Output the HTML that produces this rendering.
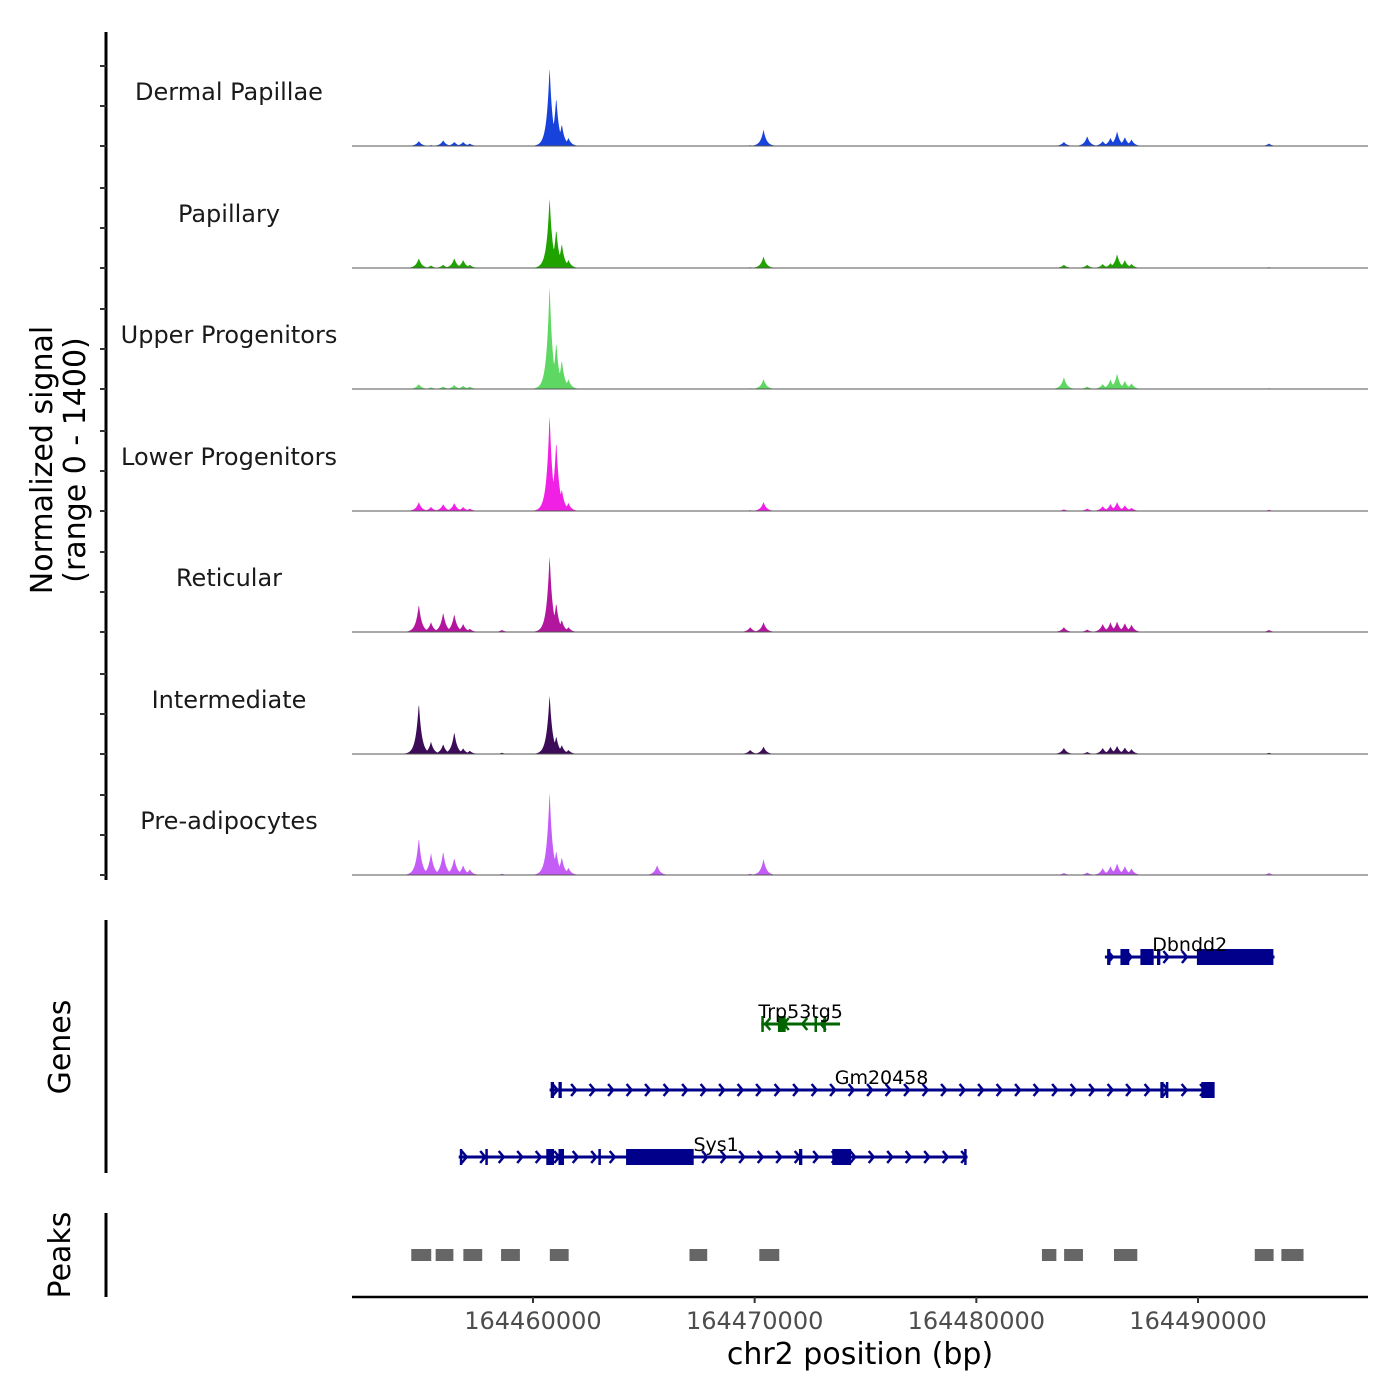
<!DOCTYPE html>
<html><head><meta charset="utf-8"><style>
html,body{margin:0;padding:0;background:#fff;}
svg{display:block;font-family:"DejaVu Sans","Liberation Sans",sans-serif;}
</style></head><body>
<svg id="chart" width="1400" height="1400" viewBox="0 0 1400 1400">
<g id="tracks"></g>
<g id="yaxis"></g>
<g id="genes"></g>
<g id="peaks"></g>
<g id="xaxis"></g>
<text transform="translate(52,460) rotate(-90)" text-anchor="middle" font-size="30" fill="#000">Normalized signal</text>
<text transform="translate(85,460) rotate(-90)" text-anchor="middle" font-size="30" fill="#000">(range 0 - 1400)</text>
<text transform="translate(70,1047) rotate(-90)" text-anchor="middle" font-size="30" fill="#000">Genes</text>
<text transform="translate(70,1255) rotate(-90)" text-anchor="middle" font-size="30" fill="#000">Peaks</text>
<text x="860" y="1364" text-anchor="middle" font-size="30" fill="#000">chr2 position (bp)</text>
</svg>
<script>
const NS="http://www.w3.org/2000/svg";
// ---- data ----
const trackNames=["Dermal Papillae","Papillary","Upper Progenitors","Lower Progenitors","Reticular","Intermediate","Pre-adipocytes"];
const trackColors=["#1742dc","#1ea300","#5ed862","#f020e4","#b2169f","#3c0c58","#c45cf6"];
const peakPositions=[164454850,164455400,164455950,164456450,164456850,164457150,164458600,164460750,164461050,164461300,164461600,164465600,164469800,164470400,164483950,164485000,164485700,164486050,164486350,164486700,164487000,164493200];
const signalDermal=[60,10,70,50,50,30,5,970,600,270,100,5,10,200,50,120,60,100,180,110,80,30];
const signalPapillary=[120,30,40,120,100,40,5,870,480,300,100,5,10,140,40,40,50,60,170,100,50,10];
const signalUpper=[60,20,30,50,40,30,5,1285,580,360,120,5,10,120,145,30,60,120,190,100,70,10];
const signalLower=[110,50,85,100,50,30,5,1190,870,270,100,5,10,110,20,30,60,85,110,70,40,15];
const signalReticular=[340,120,240,220,100,40,25,945,360,150,60,5,60,120,60,30,100,120,130,110,90,25];
const signalIntermediate=[630,150,120,270,70,40,15,730,220,110,50,5,50,90,75,25,75,90,100,80,60,15];
const signalPreadip=[460,270,290,210,120,70,15,1030,300,220,90,120,15,195,25,30,85,110,145,110,80,25];
const trackSignals=[signalDermal,signalPapillary,signalUpper,signalLower,signalReticular,signalIntermediate,signalPreadip];
const xTicks=[164460000,164470000,164480000,164490000];
const geneNames=["Dbndd2","Trp53tg5","Gm20458","Sys1"];
const geneStarts=[164485800,164470300,164460750,164456650];
const geneEnds=[164493450,164473850,164490700,164479600];
const geneStrands=["+","-","+","+"];
const geneExons=[
 [[164485900,164486050],[164486500,164486900],[164487400,164488000],[164488150,164488300],[164489950,164493400]],
 [[164470300,164470400],[164471050,164471400],[164472700,164472800],[164473100,164473200]],
 [[164460800,164460950],[164461150,164461300],[164488300,164488450],[164488550,164488650],[164490150,164490750]],
 [[164456700,164456800],[164457850,164457950],[164460600,164460950],[164461150,164461400],[164462950,164463050],[164464200,164467250],[164472000,164472150],[164473500,164474350],[164479450,164479550]]
];
const peakStarts=[164454600,164455700,164456950,164458650,164460850,164467150,164470300,164483050,164484050,164486300,164492650,164493850];
const peakEnds=[164455500,164456500,164457800,164459500,164461700,164467950,164471200,164483700,164484900,164487350,164493500,164494850];
// ---- scales ----
const X0=352,X1=1368,BP0=164451836,BP1=164497668;
const xs=bp=>X0+(bp-BP0)/(BP1-BP0)*(X1-X0);
const baselines=[146,268,389,511,632,754,875];
const TH=121.5;
const ys=(v,b)=>b-v/1400*TH*0.95;
function el(tag,attrs,parent){const e=document.createElementNS(NS,tag);for(const k in attrs)e.setAttribute(k,attrs[k]);parent.appendChild(e);return e;}
const T=document.getElementById('tracks');
trackNames.forEach((nm,i)=>{
  const b=baselines[i],sig=trackSignals[i];
  let d=`M${X0},${b}`;
  for(let px=X0;px<=X1;px+=0.5){
    let v=0;
    peakPositions.forEach((p,j)=>{const dx=Math.abs(px-xs(p));v=Math.max(v,sig[j]*Math.exp(-dx/3));});
    v=Math.min(v,1400);
    d+=` L${px},${ys(v,b).toFixed(2)}`;
  }
  d+=` L${X1},${b} Z`;
  const p=el('path',{d:d,fill:trackColors[i],stroke:'none'},T);
  
  
  const ln=el('line',{x1:X0,x2:X1,y1:b,y2:b,stroke:'#555','stroke-width':1},T);
  
  
  const t=el('text',{x:229,y:b-46,'text-anchor':'middle','font-size':24,fill:'#1a1a1a'},T);
  t.textContent=nm;
  
  
});
// y axis
const Y=document.getElementById('yaxis');
el('line',{x1:106,x2:106,y1:32,y2:880,stroke:'#000','stroke-width':3},Y);
baselines.forEach(b=>{[0,40,80].forEach(o=>{const tk=el('line',{x1:100,x2:106,y1:b-o,y2:b-o,stroke:'#333','stroke-width':2},Y);

});});
// genes
const G=document.getElementById('genes');
el('line',{x1:106,x2:106,y1:920,y2:1173,stroke:'#000','stroke-width':3},G);
const rowY=[957,1024,1090,1157];
geneNames.forEach((nm,i)=>{
  const col=i==1?'#006400':'#00008b',y=rowY[i];
  const g=el('g',{},G);
  
  
  const s=xs(geneStarts[i]),e=xs(geneEnds[i]);
  el('line',{x1:s,x2:e,y1:y,y2:y,stroke:col,'stroke-width':3},g);
  for(let x=s+6;x<e;x+=18.5){
    const dir=geneStrands[i]=='+'?1:-1;
    el('polyline',{points:`${x-3*dir},${y-6} ${x+2*dir},${y} ${x-3*dir},${y+6}`,fill:'none',stroke:col,'stroke-width':2.5},g);
  }
  geneExons[i].forEach(ex=>{const a=xs(ex[0]),c=xs(ex[1]);el('rect',{x:a,y:y-8,width:Math.max(c-a,2.5),height:16,fill:col},g);});
  const t=el('text',{x:(s+e)/2+(i==0?0:i==3?3:0),y:y-6,'text-anchor':'middle','font-size':19,fill:'#000'},g);
  t.textContent=nm;
});
// peaks
const P=document.getElementById('peaks');
el('line',{x1:106,x2:106,y1:1213,y2:1297,stroke:'#000','stroke-width':3},P);
peakStarts.forEach((s,i)=>{const r=el('rect',{x:xs(s)-2,y:1249,width:xs(peakEnds[i])-xs(s),height:12,fill:'#666'},P);

});
// x axis
const XA=document.getElementById('xaxis');
el('line',{x1:X0,x2:X1,y1:1297,y2:1297,stroke:'#000','stroke-width':2.5},XA);
xTicks.forEach(v=>{const x=xs(v);el('line',{x1:x,x2:x,y1:1297,y2:1303,stroke:'#333','stroke-width':2},XA);
const t=el('text',{x:x,y:1329,'text-anchor':'middle','font-size':24,fill:'#4d4d4d'},XA);t.textContent=v;

});
</script>
</body></html>
